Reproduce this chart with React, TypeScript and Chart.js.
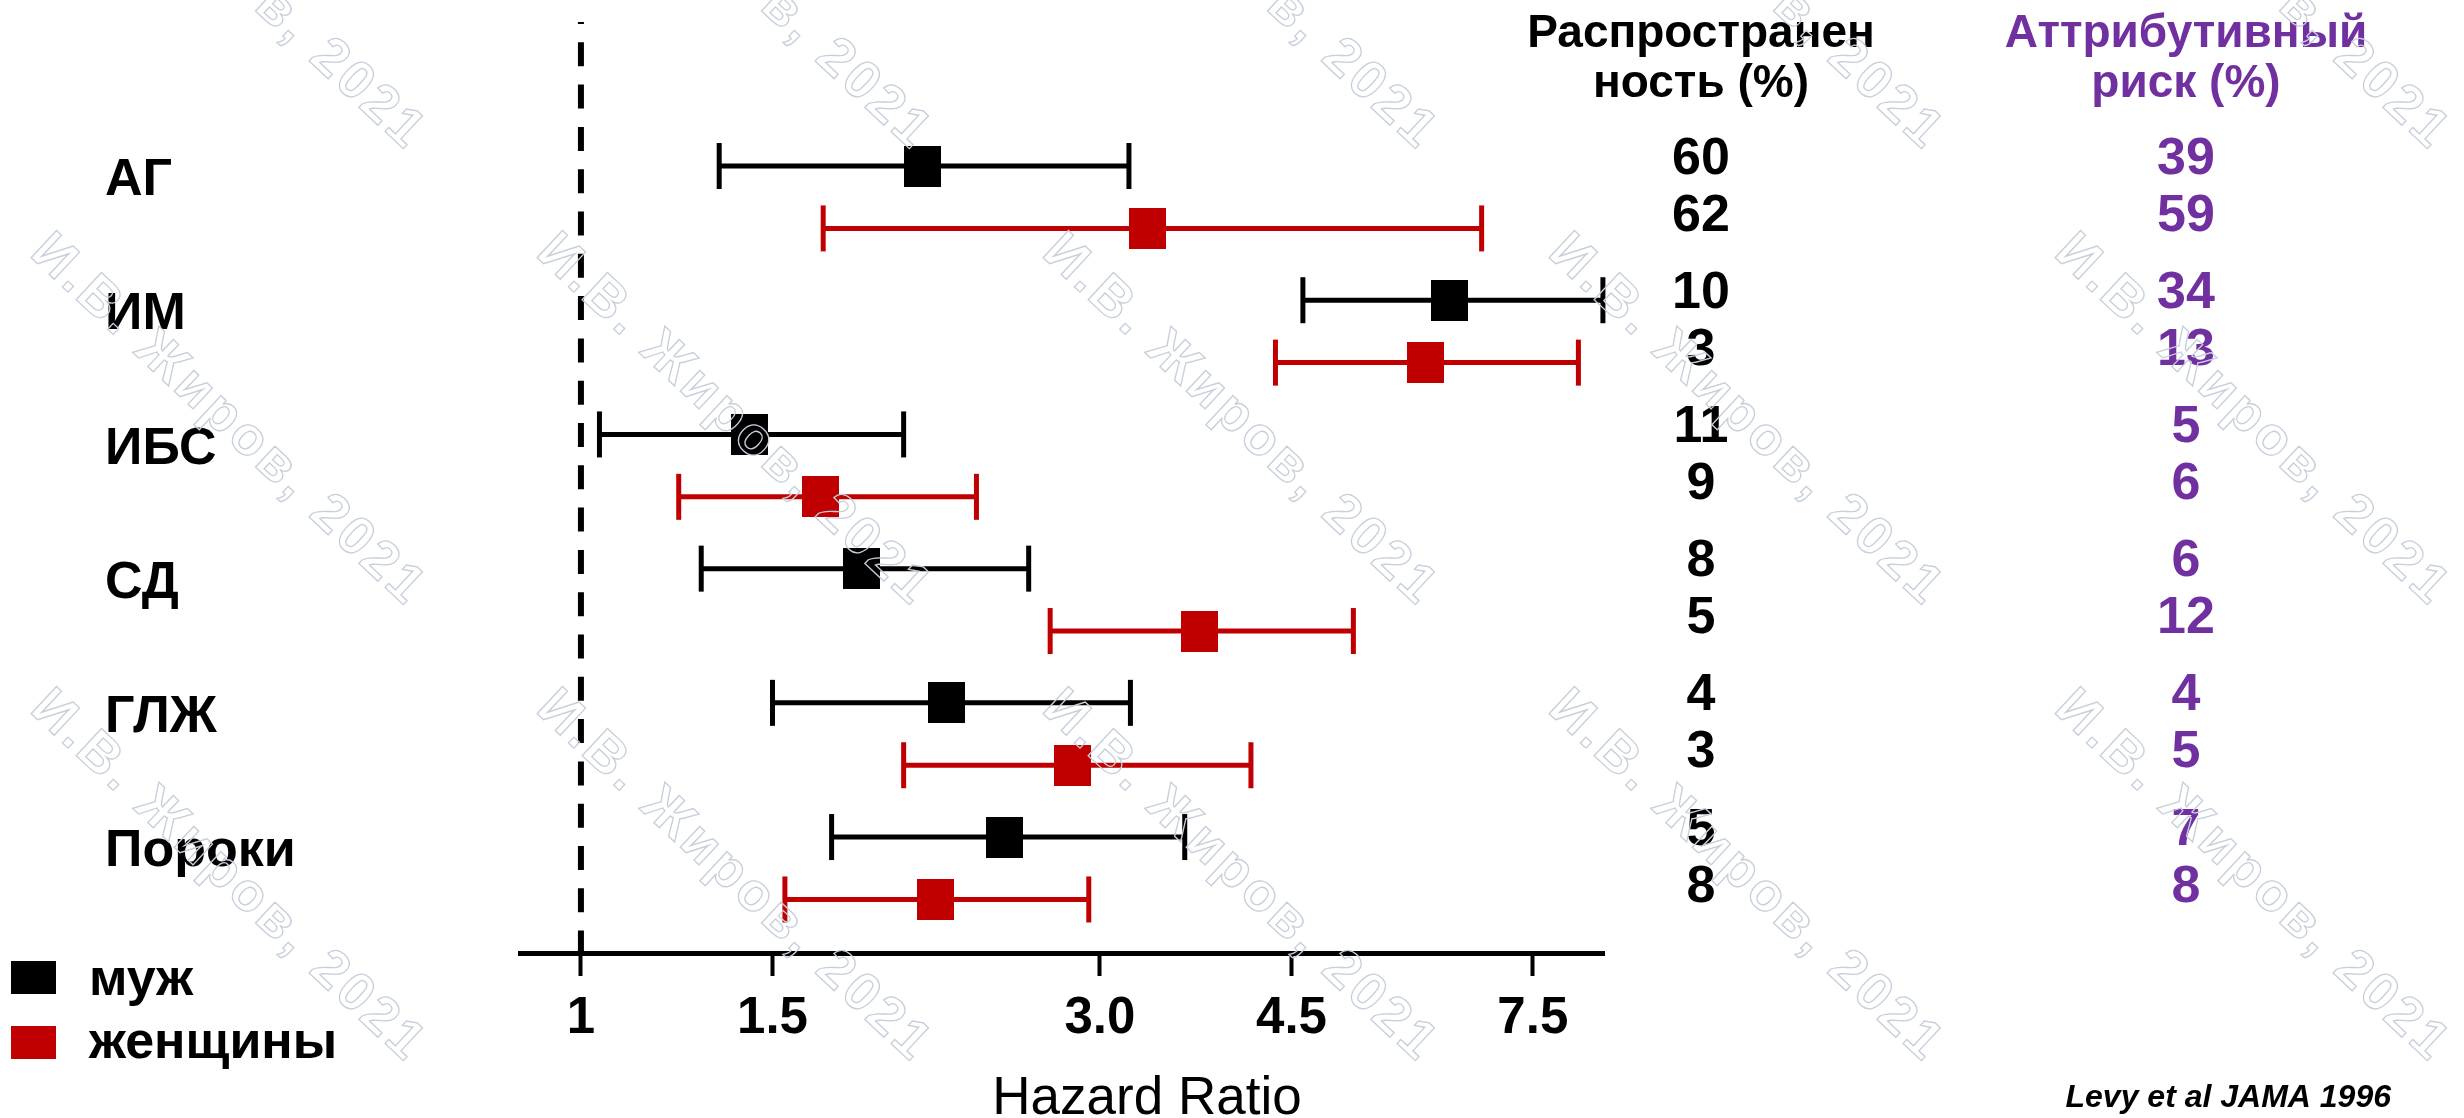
import React, { useEffect, useRef } from 'react';
import { Chart, registerables } from 'chart.js';

Chart.register(...registerables);

// ---------- data ----------
const categories = ['АГ', 'ИМ', 'ИБС', 'СД', 'ГЛЖ', 'Пороки'];
const seriesLabels = ['муж', 'женщины'];

const menHR = [2.06, 6.29, 1.43, 1.81, 2.17, 2.45];
const menLow = [1.34, 4.61, 1.04, 1.29, 1.5, 1.7];
const menHigh = [3.19, 8.7, 1.98, 2.58, 3.2, 3.59];

const womenHR = [3.32, 5.97, 1.66, 3.7, 2.83, 2.12];
const womenLow = [1.67, 4.35, 1.23, 2.7, 1.98, 1.54];
const womenHigh = [6.73, 8.26, 2.31, 5.13, 4.13, 2.93];

const menPrevalence = ['60', '10', '11', '8', '4', '5'];
const womenPrevalence = ['62', '3', '9', '5', '3', '8'];
const menAttrRisk = ['39', '34', '5', '6', '4', '7'];
const womenAttrRisk = ['59', '13', '6', '12', '5', '8'];

const xTickValues = [1, 1.5, 3, 4.5, 7.5];
const xTickLabels = ['1', '1.5', '3.0', '4.5', '7.5'];

const prevalenceHeader = ['Распространен', 'ность (%)'];
const attrRiskHeader = ['Аттрибутивный', 'риск (%)'];
const xAxisTitle = 'Hazard Ratio';
const citation = 'Levy et al JAMA 1996';
const watermark = 'И.В. Жиров, 2021';

// ---------- style / layout ----------
const FONT = "Arial, 'Liberation Sans', sans-serif";
const MEN_COLOR = '#000000';
const WOMEN_COLOR = '#C00000';
const PURPLE = '#7030A0';
const WOMEN_OFFSET = 0.465;
const LABEL_OFFSET = 0.11;
const TEXT_MEN_OFFSET = -0.082;
const TEXT_WOMEN_OFFSET = 0.343;
const Y_MIN = -1.073;
const Y_MAX = 5.864;
const X_MIN = 0.879;
const X_MAX = 8.72;

function makeSquare(color: string) {
  const c = document.createElement('canvas');
  c.width = 37;
  c.height = 41;
  const g = c.getContext('2d')!;
  g.fillStyle = color;
  g.fillRect(0, 0, 37, 41);
  return c;
}

const overlayPlugin = {
  id: 'overlay',
  afterDraw(chart: any) {
    const ctx = chart.ctx as CanvasRenderingContext2D;
    const ys = chart.scales.y;
    ctx.save();

    // column headers
    ctx.textAlign = 'center';
    ctx.textBaseline = 'alphabetic';
    ctx.font = `bold 46px ${FONT}`;
    ctx.fillStyle = '#000';
    ctx.fillText(prevalenceHeader[0], 1701, 47);
    ctx.fillText(prevalenceHeader[1], 1701, 97);
    ctx.fillStyle = PURPLE;
    ctx.fillText(attrRiskHeader[0], 2186, 47);
    ctx.fillText(attrRiskHeader[1], 2186, 97);

    // numbers
    const fs = 52;
    ctx.font = `bold ${fs}px ${FONT}`;
    categories.forEach((_, i) => {
      const yMen = ys.getPixelForValue(i + TEXT_MEN_OFFSET) + 0.358 * fs;
      const yWomen = ys.getPixelForValue(i + TEXT_WOMEN_OFFSET) + 0.358 * fs;
      ctx.fillStyle = '#000';
      ctx.fillText(menPrevalence[i], 1701, yMen);
      ctx.fillText(womenPrevalence[i], 1701, yWomen);
      ctx.fillStyle = PURPLE;
      ctx.fillText(menAttrRisk[i], 2186, yMen);
      ctx.fillText(womenAttrRisk[i], 2186, yWomen);
    });

    // legend
    const legendColors = [MEN_COLOR, WOMEN_COLOR];
    const legendTops = [961, 1026];
    const legendBaselines = [995, 1058];
    ctx.textAlign = 'left';
    ctx.font = `bold 52px ${FONT}`;
    seriesLabels.forEach((lab, i) => {
      ctx.fillStyle = legendColors[i];
      ctx.fillRect(11, legendTops[i], 45, 33);
      ctx.fillStyle = '#000';
      ctx.fillText(lab, 89, legendBaselines[i]);
    });

    // x-axis title
    ctx.textAlign = 'center';
    ctx.font = `53px ${FONT}`;
    ctx.fillStyle = '#000';
    ctx.fillText(xAxisTitle, 1147, 1114);

    // citation
    ctx.textAlign = 'right';
    ctx.font = `italic bold 32px ${FONT}`;
    ctx.fillText(citation, 2391, 1107);

    // watermark
    ctx.font = `bold 54px ${FONT}`;
    (ctx as any).letterSpacing = '4px';
    ctx.textAlign = 'center';
    ctx.textBaseline = 'middle';
    ctx.strokeStyle = '#c6cfdb';
    ctx.lineWidth = 1.3;
    for (let k = 0; k < 5; k++) {
      for (let j = -1; j <= 1; j++) {
        ctx.save();
        ctx.translate(228 + 506 * k, 421 + 456 * j);
        ctx.rotate((43 * Math.PI) / 180);
        ctx.strokeText(watermark, 0, 0);
        ctx.restore();
      }
    }
    (ctx as any).letterSpacing = '0px';

    ctx.restore();
  },
};

export default function App() {
  const ref = useRef<HTMLCanvasElement>(null);

  useEffect(() => {
    const canvas = ref.current;
    if (!canvas) return;

    const ciDatasets: any[] = [];
    categories.forEach((cat, i) => {
      ciDatasets.push({
        label: `${cat} ${seriesLabels[0]} CI`,
        data: [
          { x: menLow[i], y: i },
          { x: menHigh[i], y: i },
        ],
        showLine: true,
        borderColor: MEN_COLOR,
        borderWidth: 5,
        pointStyle: 'line',
        pointRotation: 90,
        pointRadius: 23,
        pointBorderWidth: 5,
        pointBorderColor: MEN_COLOR,
        pointBackgroundColor: MEN_COLOR,
        order: 1,
        clip: false,
      });
      ciDatasets.push({
        label: `${cat} ${seriesLabels[1]} CI`,
        data: [
          { x: womenLow[i], y: i + WOMEN_OFFSET },
          { x: womenHigh[i], y: i + WOMEN_OFFSET },
        ],
        showLine: true,
        borderColor: WOMEN_COLOR,
        borderWidth: 5,
        pointStyle: 'line',
        pointRotation: 90,
        pointRadius: 23,
        pointBorderWidth: 5,
        pointBorderColor: WOMEN_COLOR,
        pointBackgroundColor: WOMEN_COLOR,
        order: 1,
        clip: false,
      });
    });

    const chart = new Chart(canvas, {
      type: 'scatter',
      data: {
        datasets: [
          {
            label: seriesLabels[0],
            data: menHR.map((v, i) => ({ x: v, y: i })),
            pointStyle: makeSquare(MEN_COLOR) as any,
            pointRadius: 20,
            backgroundColor: MEN_COLOR,
            borderColor: MEN_COLOR,
            order: 0,
            clip: false,
          },
          {
            label: seriesLabels[1],
            data: womenHR.map((v, i) => ({ x: v, y: i + WOMEN_OFFSET })),
            pointStyle: makeSquare(WOMEN_COLOR) as any,
            pointRadius: 20,
            backgroundColor: WOMEN_COLOR,
            borderColor: WOMEN_COLOR,
            order: 0,
            clip: false,
          },
          ...ciDatasets,
          {
            label: 'reference',
            data: [
              { x: 1, y: Y_MIN },
              { x: 1, y: Y_MAX },
            ],
            showLine: true,
            borderColor: '#000',
            borderWidth: 6,
            borderDash: [24, 18.3],
            borderDashOffset: 22,
            pointRadius: 0,
            order: 2,
          },
        ],
      },
      options: {
        animation: false,
        responsive: false,
        devicePixelRatio: 1,
        events: [],
        layout: { autoPadding: false, padding: { left: 105, right: 860, top: 22, bottom: 0 } },
        plugins: {
          legend: { display: false },
          tooltip: { enabled: false },
        },
        scales: {
          x: {
            type: 'logarithmic',
            min: X_MIN,
            max: X_MAX,
            bounds: 'data',
            afterBuildTicks: (s: any) => {
              s.ticks = xTickValues.map((v) => ({ value: v }));
            },
            afterFit: (s: any) => {
              s.height = 165;
              s.paddingLeft = 0;
              s.paddingRight = 0;
            },
            ticks: {
              autoSkip: false,
              maxRotation: 0,
              padding: 12,
              color: '#000',
              font: { family: FONT, size: 51, weight: 'bold' },
              callback: (_v: any, i: number) => xTickLabels[i],
            },
            grid: {
              display: true,
              drawOnChartArea: false,
              drawTicks: true,
              tickLength: 23,
              tickWidth: 4,
              tickColor: '#000',
              color: '#000',
            },
            border: { display: true, width: 5, color: '#000' },
          },
          y: {
            type: 'linear',
            min: Y_MIN,
            max: Y_MAX,
            reverse: true,
            afterBuildTicks: (s: any) => {
              s.ticks = categories.map((_, i) => ({ value: i + LABEL_OFFSET }));
            },
            afterFit: (s: any) => {
              s.width = 415;
              s.paddingTop = 0;
              s.paddingBottom = 0;
            },
            ticks: {
              autoSkip: false,
              crossAlign: 'far',
              color: '#000',
              font: { family: FONT, size: 52, weight: 'bold' },
              callback: (_v: any, i: number) => categories[i],
            },
            grid: { display: false },
            border: { display: false },
          },
        },
      } as any,
      plugins: [overlayPlugin],
    });

    return () => chart.destroy();
  }, []);

  return (
    <div style={{ position: 'fixed', left: 0, top: 0, width: 2464, height: 1118, background: '#fff' }}>
      <canvas ref={ref} width={2464} height={1118} style={{ display: 'block', width: 2464, height: 1118 }} />
    </div>
  );
}
